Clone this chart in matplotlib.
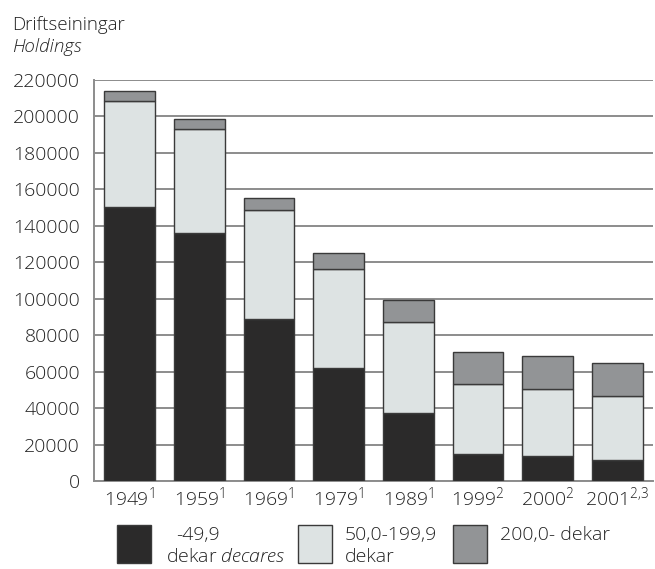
import numpy as np
import matplotlib.pyplot as plt
from matplotlib.patches import Rectangle

plt.rcParams['font.family'] = ['Open Sans', 'DejaVu Sans']
plt.rcParams['font.weight'] = 'light'
plt.rcParams['mathtext.fontset'] = 'custom'
plt.rcParams['mathtext.rm'] = 'Open Sans:light'
plt.rcParams['mathtext.it'] = 'Open Sans:italic:light'

years = ['1949$^{1}$', '1959$^{1}$', '1969$^{1}$', '1979$^{1}$', '1989$^{1}$',
         '1999$^{2}$', '2000$^{2}$', '2001$^{2{,}3}$']
small = [150500, 136300, 88700, 62100, 37200, 14700, 13600, 11500]
medium = [58000, 57000, 60100, 54200, 50200, 38600, 37000, 35200]
large = [5200, 5100, 6400, 9000, 12100, 17200, 18000, 18300]

c_small = '#2b2a2a'
c_medium = '#dde3e3'
c_large = '#929496'
edge = '#3a3a3a'

fig = plt.figure(figsize=(6.55, 5.69), dpi=100)
ax = fig.add_axes([94 / 655, 1 - 481 / 569, (653 - 94) / 655, (481 - 80) / 569])

x = np.arange(len(years))
w = 0.73
small = np.array(small)
medium = np.array(medium)
large = np.array(large)
ax.bar(x, small, w, color=c_small, edgecolor=edge, linewidth=1, zorder=3)
ax.bar(x, medium, w, bottom=small, color=c_medium, edgecolor=edge, linewidth=1, zorder=3)
ax.bar(x, large, w, bottom=small + medium, color=c_large, edgecolor=edge, linewidth=1, zorder=3)

ax.set_xlim(-0.51, 7.51)
ax.set_ylim(0, 220000)
ax.set_yticks(np.arange(0, 220001, 20000))
ax.yaxis.grid(True, color='#8c8c8c', linewidth=1.4, zorder=0)
ax.set_axisbelow(True)
ax.set_xticks(x)
ax.set_xticklabels(years)
ax.tick_params(axis='both', length=0, labelsize=14, colors='#222222')
ax.tick_params(axis='y', pad=10)
ax.tick_params(axis='x', pad=3)
for s in ['top', 'right']:
    ax.spines[s].set_visible(False)
ax.spines['left'].set_color('#8c8c8c')
ax.spines['left'].set_linewidth(1.4)
ax.spines['bottom'].set_color('#8c8c8c')
ax.spines['bottom'].set_linewidth(1.4)

fig.text(12 / 655, 1 - 25 / 569, 'Driftseiningar', fontsize=13.5, color='#222222', va='center')
fig.text(12 / 655, 1 - 47 / 569, 'Holdings', fontsize=13.5, style='italic', color='#222222', va='center')

# legend drawn by hand
def patch(x0, color):
    fig.add_artist(Rectangle((x0 / 655, 1 - 563 / 569), 34 / 655, 38 / 569,
                             transform=fig.transFigure, facecolor=color,
                             edgecolor=edge, linewidth=1))

patch(117, c_small)
patch(298, c_medium)
patch(453, c_large)
fs = 14
fig.text(176 / 655, 1 - 535 / 569, '-49,9', fontsize=fs, color='#222222', va='center')
fig.text(166 / 655, 1 - 557 / 569, 'dekar $\\mathit{decares}$', fontsize=fs, color='#222222', va='center')
fig.text(345 / 655, 1 - 535 / 569, '50,0-199,9', fontsize=fs, color='#222222', va='center')
fig.text(345 / 655, 1 - 557 / 569, 'dekar', fontsize=fs, color='#222222', va='center')
fig.text(500 / 655, 1 - 535 / 569, '200,0- dekar', fontsize=fs, color='#222222', va='center')

fig.savefig('out.png', dpi=100)
